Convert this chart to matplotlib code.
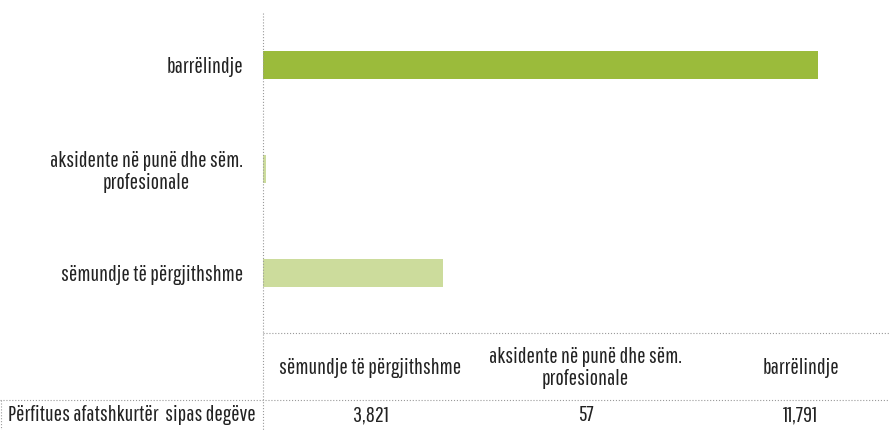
import matplotlib.pyplot as plt
from matplotlib.lines import Line2D
import numpy as np

# te dhenat
kategorite = ['sëmundje të përgjithshme', 'aksidente në punë dhe sëm.\nprofesionale', 'barrëlindje']
vlerat = [3821, 57, 11791]
ngjyrat = ['#CCDC9C', '#CCDC9C', '#9BBB3B']
etiketa_vlerash = ['3,821', '57', '11,791']
titulli_rreshtit = 'Përfitues afatshkurtër  sipas degëve'

plt.rcParams['font.family'] = ['Pathway Gothic One', 'DejaVu Sans']
FS = 16
LS = 1.1
W, H = 889, 430
fig = plt.figure(figsize=(W / 100, H / 100), dpi=100)

# pozicioni i grafikut ne piksela
x0, x1 = 263, 908
y_top, y_bot = 13, 325
ax = fig.add_axes([x0 / W, 1 - y_bot / H, (x1 - x0) / W, (y_bot - y_top) / H])

pos = np.arange(len(kategorite))
ax.barh(pos, vlerat, height=0.27, color=ngjyrat)
ax.set_xlim(0, 13700)
ax.set_ylim(-0.5, 2.5)
ax.set_yticks(pos)
ax.set_yticklabels(kategorite, fontsize=FS, color='#222222')
for lab in ax.get_yticklabels():
    lab.set_multialignment('center')
    lab.set_linespacing(LS)
ax.tick_params(axis='y', length=0, pad=14.4)
ax.set_xticks([])
for s in ax.spines.values():
    s.set_visible(False)

grey = '#9A9A9A'
def hline(x_a, x_b, y):
    fig.add_artist(Line2D([x_a / W, x_b / W], [1 - y / H, 1 - y / H], color=grey, lw=0.8, ls=':'))
def vline(x, y_a, y_b):
    fig.add_artist(Line2D([x / W, x / W], [1 - y_a / H, 1 - y_b / H], color=grey, lw=0.8, ls=':'))

# vijat e tabeles
vline(x0, y_top, H)
vline(1, 400, H)
hline(x0, W, 333)
hline(0, W, 400)

# tabela poshte grafikut
col_w = (x1 - x0) / len(kategorite)
for i, (k, v) in enumerate(zip(kategorite, etiketa_vlerash)):
    cx = x0 + col_w * (i + 0.5)
    fig.text(cx / W, 1 - 368 / H, k, ha='center', va='center', multialignment='center',
             fontsize=FS, color='#222222', linespacing=LS)
    fig.text(cx / W, 1 - 415 / H, v, ha='center', va='center', fontsize=FS, color='#222222')
fig.text(132 / W, 1 - 415 / H, titulli_rreshtit, ha='center', va='center', fontsize=FS, color='#222222')

fig.savefig('out.png', dpi=100)
